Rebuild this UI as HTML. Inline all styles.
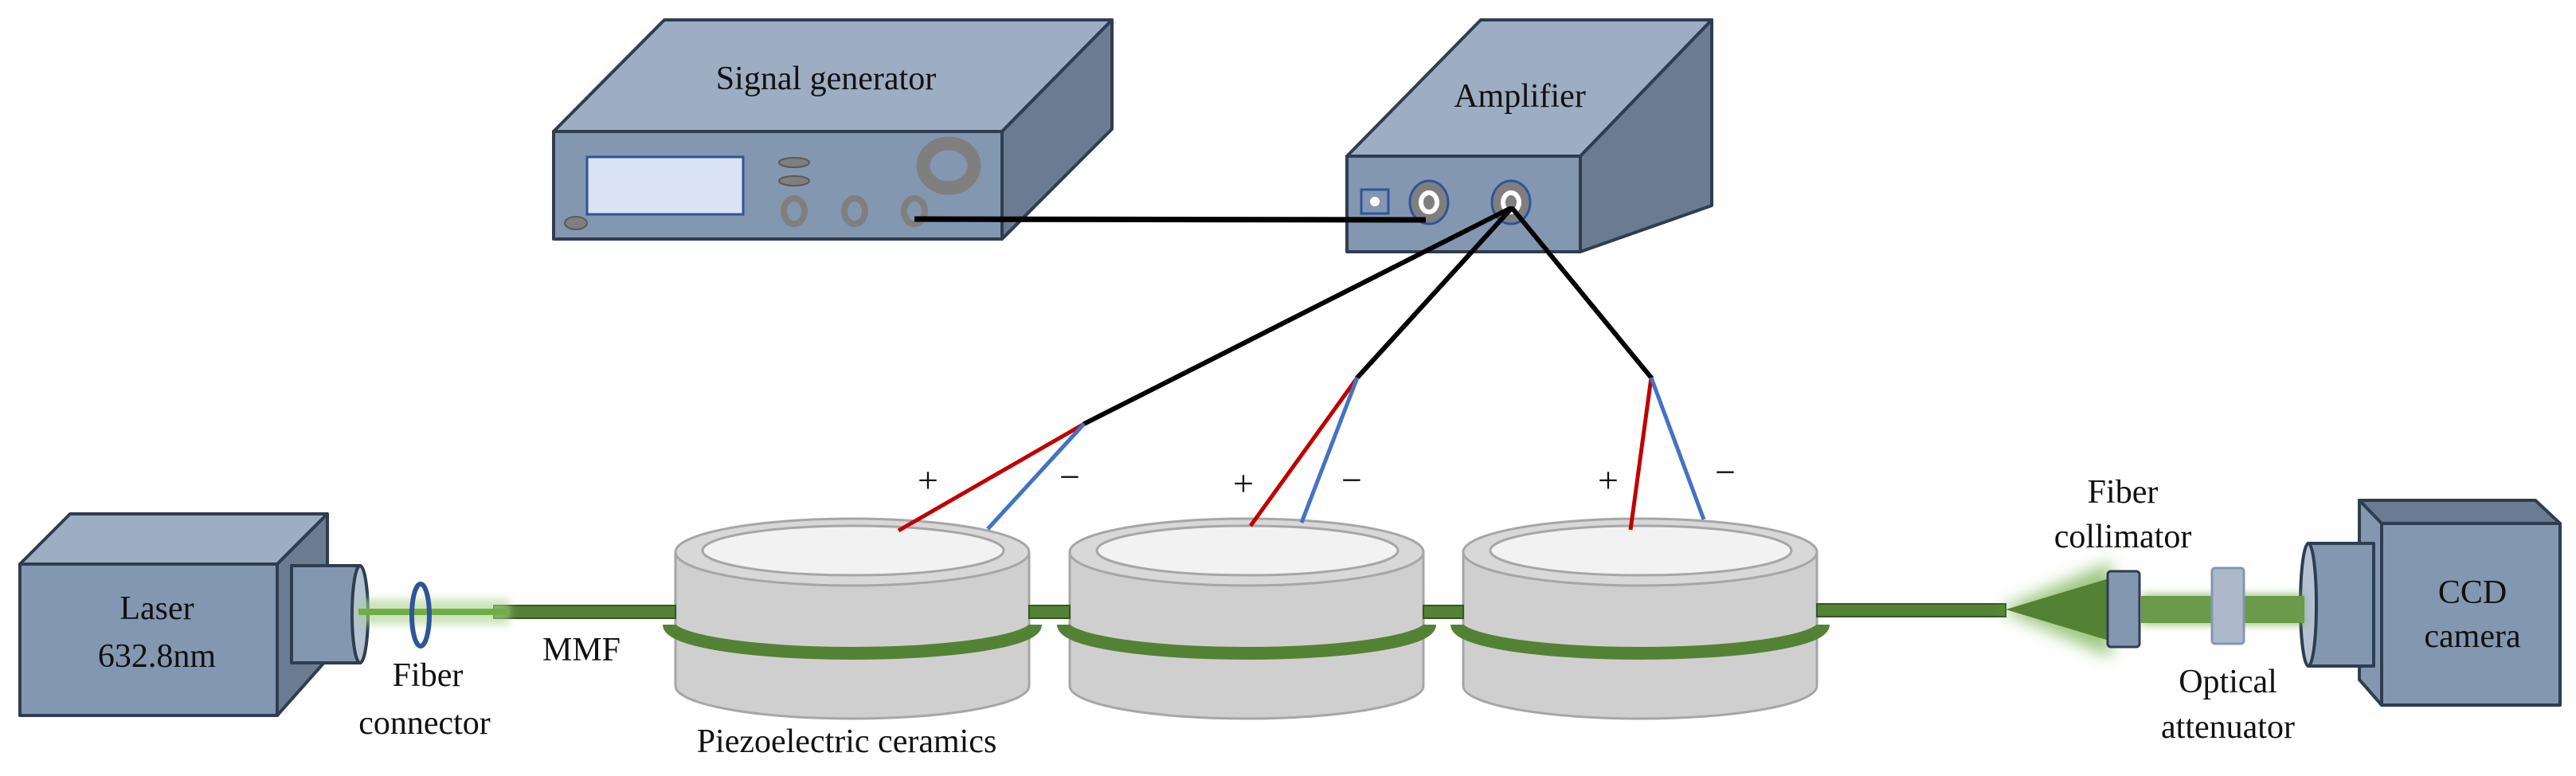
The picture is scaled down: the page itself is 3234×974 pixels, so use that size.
<!DOCTYPE html>
<html><head><meta charset="utf-8"><style>html,body{margin:0;padding:0;background:#fff}svg{display:block}text{font-family:"Liberation Serif",serif;fill:#111}</style></head>
<body>
<svg width="3234" height="974" viewBox="0 0 3234 974" xmlns="http://www.w3.org/2000/svg">
<defs>
<filter id="blur" x="-50%" y="-50%" width="200%" height="200%"><feGaussianBlur stdDeviation="10"/></filter>
<filter id="blur2" x="-50%" y="-50%" width="200%" height="200%"><feGaussianBlur stdDeviation="5"/></filter>
</defs>
<g stroke="#2f3d50" stroke-width="4" stroke-linejoin="round">
<polygon points="695,165 834,25 1396,25 1258,165" fill="#9dadc2"/>
<polygon points="1258,165 1396,25 1396,162 1258,300" fill="#6a7b92"/>
<rect x="695" y="165" width="563" height="135" fill="#8497b0"/>
<polygon points="1691,196 1859,25 2149,25 1984,196" fill="#9dadc2"/>
<polygon points="1984,196 2149,25 2149,258 1984,316" fill="#6a7b92"/>
<rect x="1691" y="196" width="293" height="120" fill="#8497b0"/>
<polygon points="25,708 88,645 411,645 348,708" fill="#9dadc2"/>
<polygon points="348,708 411,645 411,827 348,898" fill="#6a7b92"/>
<rect x="25" y="708" width="323" height="190" fill="#8497b0"/>
<rect x="366" y="710" width="86" height="122" fill="#8497b0"/>
<ellipse cx="452" cy="771" rx="10" ry="61" fill="#b4c2d3"/>
<polygon points="2962,628 3183,628 3214,657 2990,657" fill="#6a7b92"/>
<polygon points="2962,628 2990,657 2990,885 2962,853" fill="#8497b0"/>
<rect x="2990" y="657" width="224" height="228" fill="#8497b0"/>
<rect x="2898" y="682" width="82" height="154" fill="#8497b0"/>
<ellipse cx="2898" cy="759" rx="10" ry="77" fill="#b4c2d3"/>
</g>
<rect x="737" y="197" width="196" height="72" fill="#dae3f3" stroke="#2f5597" stroke-width="3"/>
<g fill="#7f7f7f" stroke="#595959" stroke-width="2">
<ellipse cx="997" cy="204" rx="19" ry="6"/><ellipse cx="997" cy="227" rx="19" ry="6"/>
<ellipse cx="723" cy="280" rx="14" ry="8"/>
</g>
<g fill="none" stroke="#7f7f7f" stroke-width="8">
<ellipse cx="997" cy="265" rx="13" ry="16"/><ellipse cx="1073" cy="265" rx="13" ry="16"/><ellipse cx="1148" cy="265" rx="13" ry="16"/>
<ellipse cx="1191" cy="208" rx="32" ry="28" stroke-width="17"/>
</g>
<rect x="1709" y="238" width="34" height="30" fill="#8497b0" stroke="#2f5597" stroke-width="3"/>
<circle cx="1726" cy="253" r="6" fill="#fff"/>
<g stroke="#2f5597" stroke-width="3">
<ellipse cx="1794" cy="254" rx="24" ry="27" fill="#7f7f7f"/>
<ellipse cx="1897" cy="254" rx="24" ry="27" fill="#7f7f7f"/>
</g>
<ellipse cx="1794" cy="254" rx="10" ry="12" fill="none" stroke="#fff" stroke-width="6"/>
<ellipse cx="1897" cy="254" rx="10" ry="12" fill="none" stroke="#fff" stroke-width="6"/>
<line x1="1148" y1="275" x2="1790" y2="276" stroke="#000" stroke-width="7"/>
<g stroke="#000" stroke-width="6" stroke-linecap="round">
<line x1="1895" y1="262" x2="1361" y2="532"/>
<line x1="1897" y1="262" x2="1704" y2="474"/>
<line x1="1899" y1="262" x2="2073" y2="474"/>
</g>
<g stroke="#a6a6a6" stroke-width="3">
<path d="M848,693 L848,861 A222,41 0 0 0 1292,861 L1292,693 Z" fill="#d0cfd0"/>
<ellipse cx="1070" cy="693" rx="222" ry="42" fill="#d8d8d8"/>
<ellipse cx="1071" cy="691" rx="189" ry="31" fill="#f2f2f2"/>
<path d="M1343,693 L1343,861 A222,41 0 0 0 1787,861 L1787,693 Z" fill="#d0cfd0"/>
<ellipse cx="1565" cy="693" rx="222" ry="42" fill="#d8d8d8"/>
<ellipse cx="1566" cy="691" rx="189" ry="31" fill="#f2f2f2"/>
<path d="M1837,693 L1837,861 A222,41 0 0 0 2281,861 L2281,693 Z" fill="#d0cfd0"/>
<ellipse cx="2059" cy="693" rx="222" ry="42" fill="#d8d8d8"/>
<ellipse cx="2060" cy="691" rx="189" ry="31" fill="#f2f2f2"/>
</g>
<g fill="#548235" stroke="#375623" stroke-width="2">
<rect x="620" y="760" width="228" height="16"/>
<rect x="1292" y="760" width="51" height="16"/>
<rect x="1787" y="760" width="50" height="16"/>
<rect x="2281" y="758" width="237" height="16"/>
</g>
<g fill="none" stroke="#548235" stroke-width="16">
<path d="M840,784 A230,36 0 0 0 1300,784"/>
<path d="M1335,784 A230,36 0 0 0 1795,784"/>
<path d="M1829,784 A230,36 0 0 0 2289,784"/>
</g>
<rect x="450" y="752" width="190" height="32" fill="#a9d18e" opacity="0.6" filter="url(#blur2)"/>
<rect x="450" y="764" width="190" height="8" fill="#70ad47"/>
<ellipse cx="528" cy="772" rx="11" ry="39" fill="none" stroke="#2f5597" stroke-width="6"/>
<polygon points="2510,765 2651,705 2651,825" fill="#70ad47" opacity="0.7" filter="url(#blur)"/>
<polygon points="2518,765 2651,725 2651,805" fill="#548235"/>
<rect x="2688" y="745" width="205" height="40" fill="#70ad47" opacity="0.6" filter="url(#blur2)"/>
<rect x="2688" y="748" width="205" height="34" fill="#6a9a4a"/>
<rect x="2646" y="717" width="40" height="95" rx="4" fill="#8497b0" stroke="#2f3d50" stroke-width="3"/>
<rect x="2777" y="713" width="40" height="95" rx="4" fill="#adb9ca" stroke="#8497b0" stroke-width="3"/>
<g stroke-width="5">
<line x1="1361" y1="532" x2="1128" y2="666" stroke="#c00000"/>
<line x1="1361" y1="532" x2="1240" y2="664" stroke="#4472c4"/>
<line x1="1704" y1="474" x2="1570" y2="660" stroke="#c00000"/>
<line x1="1704" y1="474" x2="1634" y2="656" stroke="#4472c4"/>
<line x1="2073" y1="474" x2="2047" y2="665" stroke="#c00000"/>
<line x1="2073" y1="474" x2="2139" y2="652" stroke="#4472c4"/>
</g>
<g font-size="42" text-anchor="middle">
<text x="1037" y="112">Signal generator</text>
<text x="1908" y="134">Amplifier</text>
<text x="197" y="777">Laser</text>
<text x="197" y="837">632.8nm</text>
<text x="537" y="861">Fiber</text>
<text x="533" y="921">connector</text>
<text x="730" y="829">MMF</text>
<text x="1063" y="944">Piezoelectric ceramics</text>
<text x="2665" y="631">Fiber</text>
<text x="2665" y="687">collimator</text>
<text x="2797" y="869">Optical</text>
<text x="2797" y="926">attenuator</text>
<text x="3104" y="757">CCD</text>
<text x="3104" y="812">camera</text>
<text x="1165" y="618" font-size="46">+</text>
<text x="1343" y="614" font-size="46">−</text>
<text x="1561" y="622" font-size="46">+</text>
<text x="1697" y="618" font-size="46">−</text>
<text x="2019" y="618" font-size="46">+</text>
<text x="2166" y="608" font-size="46">−</text>
</g>
</svg>
</body></html>
